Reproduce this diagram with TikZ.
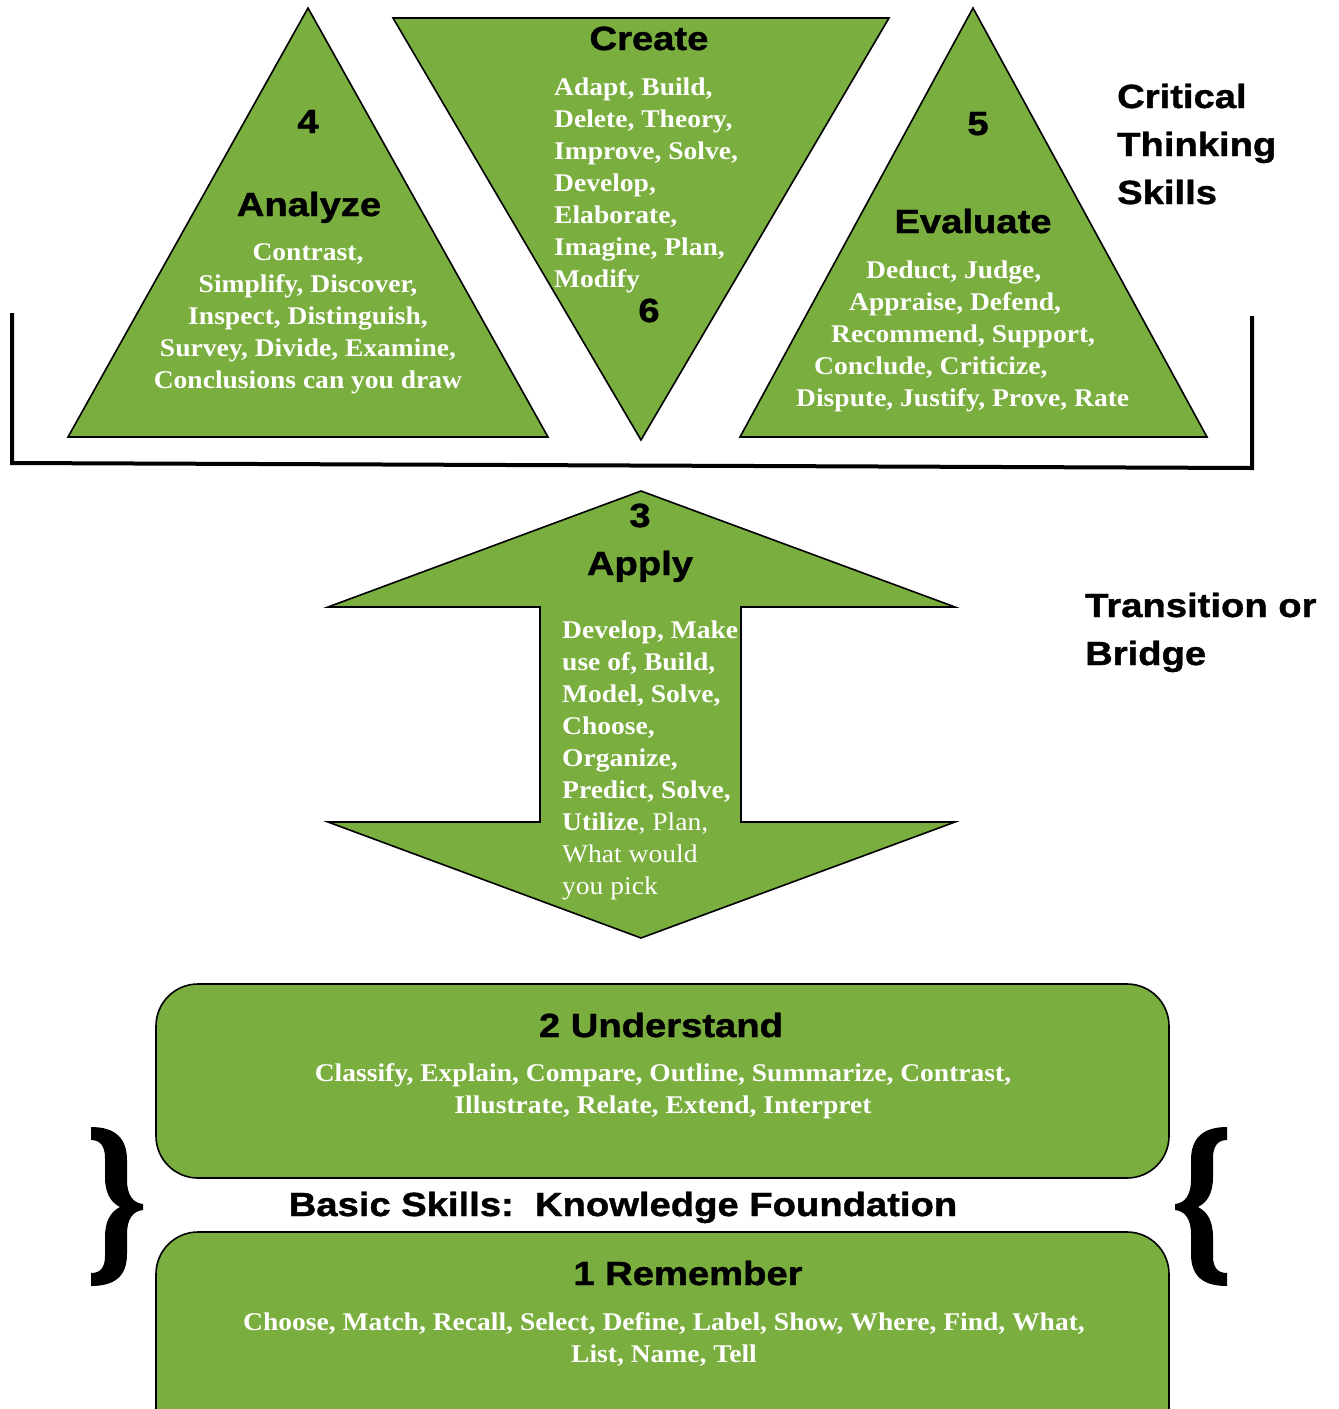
\documentclass[tikz,border=0pt]{standalone}
\usepackage{fontspec}
\newfontfamily\bodyfont{Liberation Serif}[FakeStretch=1.08]
\newfontfamily\headfont{Liberation Sans}[FakeStretch=1.14,FakeBold=1.2]
\definecolor{leaf}{RGB}{122,174,62}
\tikzset{
  greenshape/.style={fill=leaf, draw=black, line width=1.6pt, line join=miter},
  body/.style={font=\bodyfont\bfseries\fontsize{25.5}{32}\selectfont, text=white, inner sep=0pt, anchor=base},
  bodyw/.style={body, anchor=base west},
  head/.style={font=\headfont\bfseries\fontsize{33.5}{40}\selectfont, text=black, inner sep=0pt, anchor=base},
  headw/.style={head, anchor=base west},
}
\newcommand{\closebracepath}{%
  (91,1127) .. controls (115,1127) and (127,1138) .. (127,1160) -- (127,1180)
  .. controls (127,1195) and (133,1203) .. (143,1204) -- (143,1210)
  .. controls (133,1211) and (127,1219) .. (127,1234) -- (127,1254)
  .. controls (127,1276) and (115,1286) .. (91,1286) -- (91,1273)
  .. controls (100,1273) and (105,1268) .. (105,1256) -- (105,1237)
  .. controls (105,1222) and (110,1212) .. (120,1207)
  .. controls (110,1202) and (105,1192) .. (105,1177) -- (105,1158)
  .. controls (105,1146) and (100,1140) .. (91,1140) -- cycle}
\begin{document}
\begin{tikzpicture}[x=1pt,y=-1pt]
\useasboundingbox (0,0) rectangle (1339,1409);
\clip (0,0) rectangle (1339,1409);

% bracket round the critical thinking skills
\draw[line width=4pt, line join=miter] (12,313) -- (12,463) -- (1252,468) -- (1252,316);

% triangles
\draw[greenshape] (308,8) -- (548,437) -- (68,437) -- cycle;
\draw[greenshape] (393,18) -- (889,18) -- (641,440) -- cycle;
\draw[greenshape] (973,8) -- (1207,437) -- (740,437) -- cycle;

% double arrow
\draw[greenshape] (641,491) -- (955,607) -- (741,607) -- (741,822) -- (955,822)
  -- (641,938) -- (328,822) -- (540,822) -- (540,607) -- (328,607) -- cycle;

% rounded boxes
\draw[greenshape, rounded corners=42pt] (156,984) rectangle (1169,1178);
\draw[greenshape, rounded corners=42pt] (156,1232) rectangle (1169,1470);

% braces
\fill[black] \closebracepath;
\begin{scope}[xshift=1318pt, xscale=-1]
  \fill[black] \closebracepath;
\end{scope}

% Analyze
\node[head] (n4) at (308,133) {4};
\node[head] (analyze) at (309,216) {Analyze};
\node[body] (an1) at (308,260) {Contrast,};
\node[body] (an2) at (308,292) {Simplify, Discover,};
\node[body] (an3) at (308,324) {Inspect, Distinguish,};
\node[body] (an4) at (308,356) {Survey, Divide, Examine,};
\node[body] (an5) at (308,388) {Conclusions can you draw};

% Create
\node[head] (create) at (649,50) {Create};
\node[bodyw] (cr1) at (554,95) {Adapt, Build,};
\node[bodyw] (cr2) at (554,127) {Delete, Theory,};
\node[bodyw] (cr3) at (554,159) {Improve, Solve,};
\node[bodyw] (cr4) at (554,191) {Develop,};
\node[bodyw] (cr5) at (554,223) {Elaborate,};
\node[bodyw] (cr6) at (554,255) {Imagine, Plan,};
\node[bodyw] (cr7) at (554,287) {Modify};
\node[head] (n6) at (649,322) {6};

% Evaluate
\node[head] (n5) at (978,135) {5};
\node[head] (evaluate) at (973,233) {Evaluate};
\node[bodyw] (ev1) at (866,278) {Deduct, Judge,};
\node[bodyw] (ev2) at (849,310) {Appraise, Defend,};
\node[bodyw] (ev3) at (831,342) {Recommend, Support,};
\node[bodyw] (ev4) at (814,374) {Conclude, Criticize,};
\node[bodyw] (ev5) at (796,406) {Dispute, Justify, Prove, Rate};

% side labels
\node[headw] (ct1) at (1117,108) {Critical};
\node[headw] (ct2) at (1117,156) {Thinking};
\node[headw] (ct3) at (1117,204) {Skills};
\node[headw] (tb1) at (1085,617) {Transition or};
\node[headw] (tb2) at (1085,665) {Bridge};

% Apply
\node[head] (n3) at (640,527) {3};
\node[head] (apply) at (640,575) {Apply};
\node[bodyw] (ap1) at (562,638) {Develop, Make};
\node[bodyw] (ap2) at (562,670) {use of, Build,};
\node[bodyw] (ap3) at (562,702) {Model, Solve,};
\node[bodyw] (ap4) at (562,734) {Choose,};
\node[bodyw] (ap5) at (562,766) {Organize,};
\node[bodyw] (ap6) at (562,798) {Predict, Solve,};
\node[bodyw] (ap7) at (562,830) {Utilize\mdseries, Plan,};
\node[bodyw, font=\bodyfont\mdseries\fontsize{25.5}{32}\selectfont] (ap8) at (562,862) {What would};
\node[bodyw, font=\bodyfont\mdseries\fontsize{25.5}{32}\selectfont] (ap9) at (562,894) {you pick};

% Understand
\node[head] (understand) at (661,1037) {2 Understand};
\node[body] (un1) at (663,1081) {Classify, Explain, Compare, Outline, Summarize, Contrast,};
\node[body] (un2) at (663,1113) {Illustrate, Relate, Extend, Interpret};

% Basic skills
\node[head] (basic) at (623,1216) {Basic Skills:~~Knowledge Foundation};

% Remember
\node[head] (remember) at (688,1285) {1 Remember};
\node[body] (re1) at (664,1330) {Choose, Match, Recall, Select, Define, Label, Show, Where, Find, What,};
\node[body] (re2) at (664,1362) {List, Name, Tell};
\end{tikzpicture}
\end{document}
